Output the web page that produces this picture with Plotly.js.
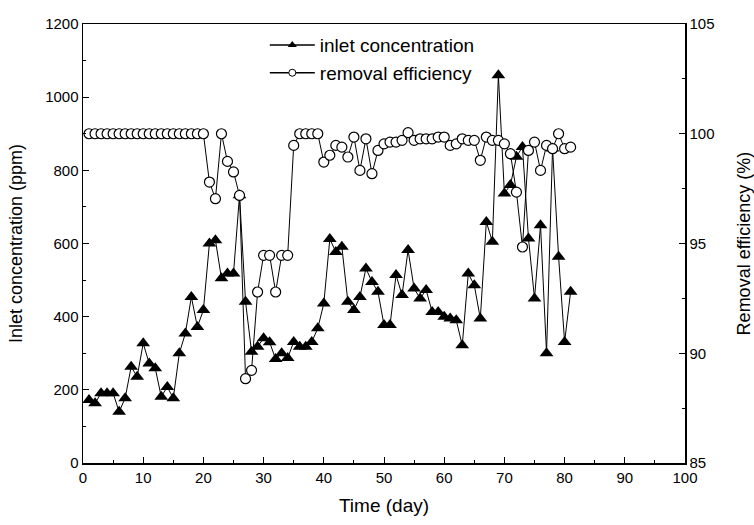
<!DOCTYPE html>
<html>
<head>
<meta charset="utf-8">
<script src="https://cdn.plot.ly/plotly-3.0.1.min.js"></script>
<style>html,body{margin:0;padding:0;background:#fff;}#chart{width:754px;height:525px;}</style>
</head>
<body>
<div id="chart"></div>
<script>
// Time (day)
var days = [];
for (var d = 1; d <= 81; d++) days.push(d);

// Inlet concentration (ppm), day 1..81
var inletConc = [
  172,163,191,191,191,140,177,263,236,327,
  272,259,181,208,177,300,354,454,372,418,
  600,609,505,518,518,732,441,304,318,341,
  330,284,300,287,331,318,318,331,368,436,
  612,577,591,441,418,454,532,495,468,377,
  377,514,459,582,477,450,473,413,413,400,
  395,390,322,518,486,395,659,605,1060,737,
  760,837,864,614,450,650,300,860,564,331,468
];

// Removal efficiency (%), day 1..81
var removalEff = [
  100,100,100,100,100,100,100,100,100,100,
  100,100,100,100,100,100,100,100,100,100,
  97.8,97.04,100,98.74,98.26,97.19,88.84,89.22,92.79,94.46,
  94.46,92.79,94.46,94.46,99.47,100,100,100,100,98.71,
  99.02,99.47,99.39,98.94,99.85,98.33,99.77,98.18,99.24,99.54,
  99.62,99.62,99.70,100.05,99.70,99.77,99.77,99.77,99.85,99.85,
  99.47,99.54,99.77,99.70,99.70,98.79,99.85,99.70,99.70,99.54,
  99.09,97.34,94.84,99.24,99.62,98.33,99.47,99.32,100,99.32,99.39
];

var seriesNames = ['inlet concentration', 'removal efficiency'];
var xTicks = [0,10,20,30,40,50,60,70,80,90,100];
var yTicks = [0,200,400,600,800,1000,1200];
var y2Ticks = [85,90,95,100,105];

var FONT = 'Arial, "Liberation Sans", Helvetica, sans-serif';

var traces = [
  {
    x: days, y: inletConc, type: 'scatter', mode: 'lines+markers',
    name: seriesNames[0], showlegend: false,
    line: {color: '#000', width: 1},
    marker: {symbol: 'triangle-up', size: 12, color: '#000'}
  },
  {
    x: days, y: removalEff, type: 'scatter', mode: 'lines+markers', yaxis: 'y2',
    name: seriesNames[1], showlegend: false,
    line: {color: '#000', width: 1},
    marker: {symbol: 'circle', size: 10, color: '#fff', line: {color: '#000', width: 1.2}}
  },
  {
    x: [null], y: [null], type: 'scatter', mode: 'lines+markers',
    name: seriesNames[0], showlegend: true,
    line: {color: '#000', width: 1.5},
    marker: {symbol: 'triangle-up', size: 8, color: '#000'}
  },
  {
    x: [null], y: [null], type: 'scatter', mode: 'lines+markers', yaxis: 'y2',
    name: seriesNames[1], showlegend: true,
    line: {color: '#000', width: 1.5},
    marker: {symbol: 'circle', size: 7, color: '#fff', line: {color: '#000', width: 1}}
  }
];

var layout = {
  width: 754, height: 525,
  margin: {l: 83, r: 69, t: 24, b: 62},
  paper_bgcolor: '#fff', plot_bgcolor: '#fff',
  font: {family: FONT, color: '#000', size: 15},
  showlegend: true,
  legend: {
    x: 0.302, y: 0.995, xanchor: 'left', yanchor: 'top',
    bgcolor: 'rgba(0,0,0,0)', borderwidth: 0,
    itemwidth: 45,
    font: {family: FONT, size: 19, color: '#000'},
    tracegroupgap: 0
  },
  xaxis: {
    range: [0, 100], tickvals: xTicks, ticktext: xTicks.map(String),
    ticks: 'inside', ticklen: 6, tickwidth: 1, tickcolor: '#000',
    minor: {dtick: 5, tick0: 0, ticks: 'inside', ticklen: 3, tickcolor: '#000', showgrid: false},
    showline: true, linecolor: '#000', linewidth: 1.5, mirror: true,
    showgrid: false, zeroline: false,
    tickfont: {family: FONT, size: 15, color: '#000'},
    title: {text: 'Time (day)', font: {family: FONT, size: 19, color: '#000'}, standoff: 14}
  },
  yaxis: {
    range: [0, 1200], tickvals: yTicks, ticktext: yTicks.map(String),
    ticks: 'inside', ticklen: 6, tickwidth: 1, tickcolor: '#000',
    minor: {dtick: 100, tick0: 0, ticks: 'inside', ticklen: 3, tickcolor: '#000', showgrid: false},
    showline: true, linecolor: '#000', linewidth: 1.5,
    showgrid: false, zeroline: false,
    tickfont: {family: FONT, size: 15, color: '#000'},
    title: {text: 'Inlet concentration (ppm)', font: {family: FONT, size: 18, color: '#000'}, standoff: 18}
  },
  yaxis2: {
    range: [85, 105], tickvals: y2Ticks, ticktext: y2Ticks.map(String),
    overlaying: 'y', side: 'right',
    ticks: 'inside', ticklen: 6, tickwidth: 1, tickcolor: '#000',
    minor: {dtick: 2.5, tick0: 85, ticks: 'inside', ticklen: 3, tickcolor: '#000', showgrid: false},
    showline: true, linecolor: '#000', linewidth: 1.5,
    showgrid: false, zeroline: false,
    tickfont: {family: FONT, size: 15, color: '#000'},
    title: {text: 'Removal efficiency (%)', font: {family: FONT, size: 18, color: '#000'}, standoff: 24}
  }
};

Plotly.newPlot('chart', traces, layout, {displayModeBar: false, staticPlot: true});
</script>
</body>
</html>
